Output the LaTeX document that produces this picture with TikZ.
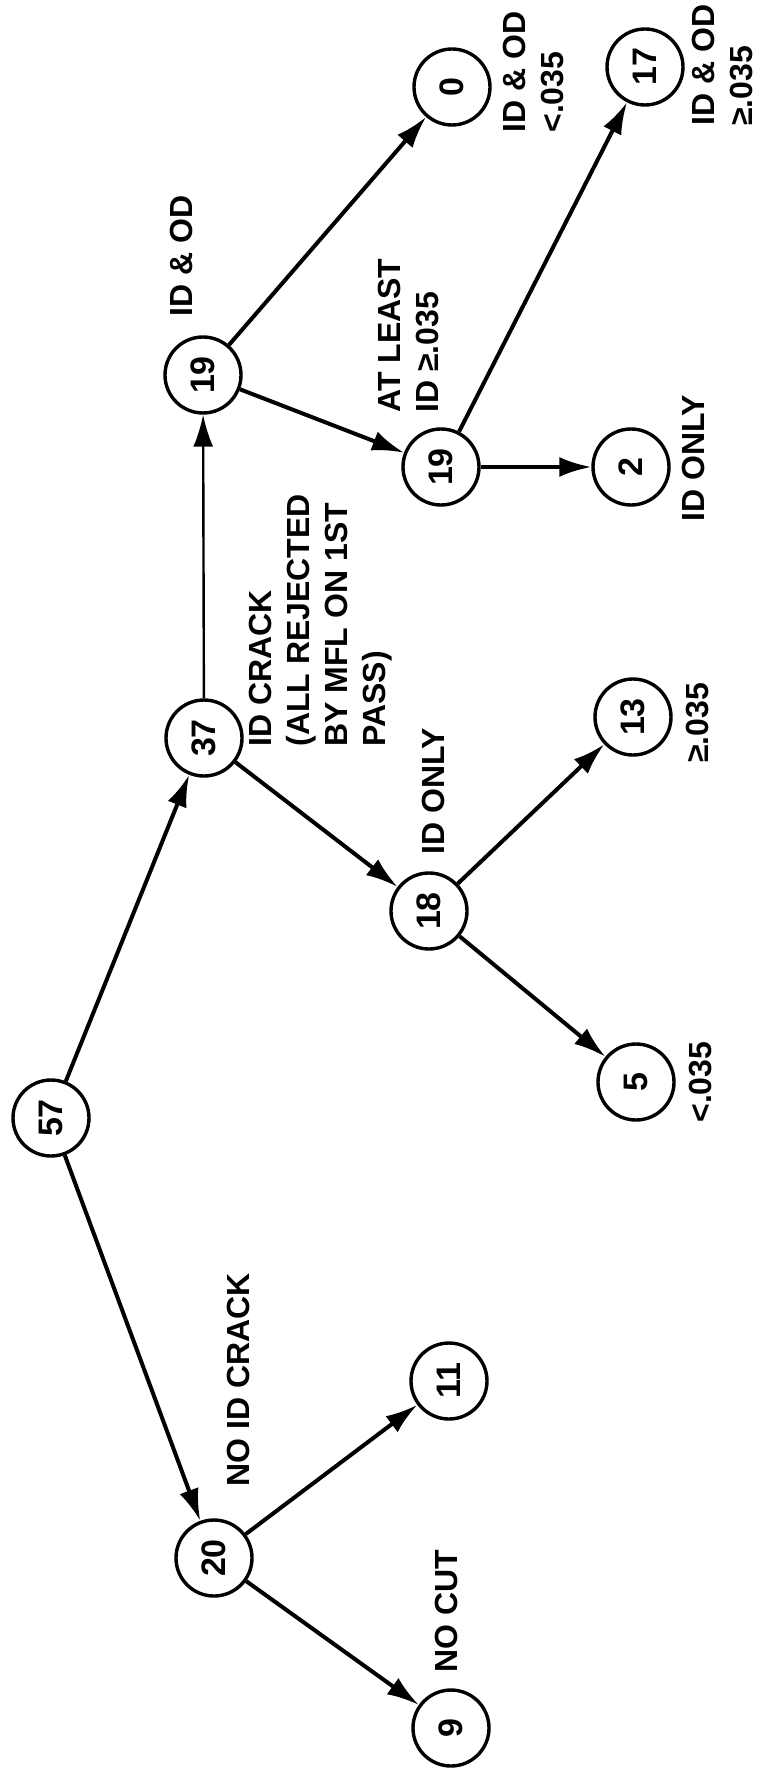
\documentclass[tikz,border=0pt]{standalone}
\usepackage{fontspec}
\setmainfont{Liberation Sans}
\usetikzlibrary{arrows.meta}
\begin{document}
\begin{tikzpicture}[x=0.5pt,y=-0.5pt,
    num/.style={draw,circle,line width=1.7pt,minimum size=38pt,inner sep=0pt,rotate=90,font=\fontsize{17}{20}\selectfont\bfseries},
    tag/.style={rotate=90,anchor=west,align=left,inner sep=0pt,font=\fontsize{16}{19}\selectfont\bfseries},
    link/.style={line width=2pt,-{Latex[length=16pt,width=10pt]}}]
    \useasboundingbox (0,0) rectangle (767,1770);
    % counts
    \node [num] (n57) at (51,1118) {57};
    \node [num] (n37) at (204,738) {37};
    \node [num] (n19a) at (203,375) {19};
    \node [num] (n0) at (452,87) {0};
    \node [num] (n17) at (645,67) {17};
    \node [num] (n19b) at (441,467) {19};
    \node [num] (n2) at (631,467) {2};
    \node [num] (n18) at (429,911) {18};
    \node [num] (n13) at (633,717) {13};
    \node [num] (n5) at (636,1082) {5};
    \node [num] (n20) at (214,1558) {20};
    \node [num] (n11) at (449,1381) {11};
    \node [num] (n9) at (451,1728) {9};
    % labels
    \node [tag] (t19a) at (181,317) {ID \& OD};
    \node [tag] (t0) at (533,133) {ID \& OD\\<.035};
    \node [tag] (t17) at (722,126) {ID \& OD\\≥.035};
    \node [tag] (t19b) at (408,413) {AT LEAST\\ID ≥.035};
    \node [tag] (t2) at (693,522) {ID ONLY};
    \node [tag] (t37) at (321,747) {ID CRACK\\(ALL REJECTED\\BY MFL ON 1ST\\PASS)};
    \node [tag] (t18) at (433,855) {ID ONLY};
    \node [tag] (t13) at (697,763) {≥.035};
    \node [tag] (t5) at (700,1123) {<.035};
    \node [tag] (t20) at (238,1487) {NO ID CRACK};
    \node [tag] (t9) at (446,1673) {NO CUT};
    % arrows
    \draw [link] (n57) -- (n37);
    \draw [link] (n57) -- (n20);
    \draw [link,line width=1.2pt] (n37) -- (n19a);
    \draw [link] (n37) -- (n18);
    \draw [link] (n19a) -- (n0);
    \draw [link] (n19a) -- (n19b);
    \draw [link] (n19b) -- (n17);
    \draw [link] (n19b) -- (n2);
    \draw [link] (n18) -- (n13);
    \draw [link] (n18) -- (n5);
    \draw [link] (n20) -- (n11);
    \draw [link] (n20) -- (n9);
\end{tikzpicture}
\end{document}
